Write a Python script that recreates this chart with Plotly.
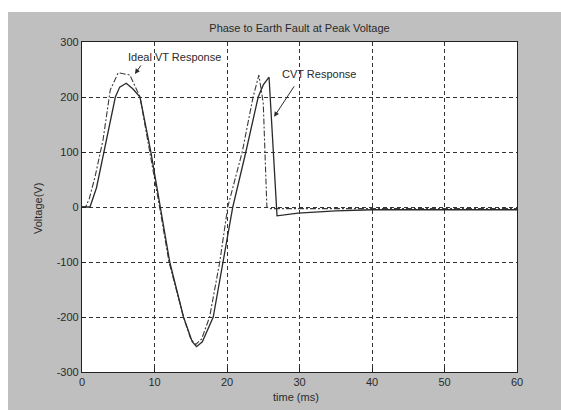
import plotly.graph_objects as go

# CVT response (solid)
cvt_t = [0, 1.1, 2.0, 2.5, 3.0, 4.0, 4.6, 5.2, 6.1, 7.0, 8.0, 9.5, 10.8, 12.1, 14.0,
         15.2, 15.8, 16.6, 18.1, 19.5, 20.8, 22.6, 24.3, 25.0, 25.8, 26.9, 29.8,
         35, 40, 50, 60]
cvt_v = [0, 0, 35, 67, 100, 160, 200, 218, 225, 215, 200, 100, 0, -100, -200,
         -245, -254, -245, -200, -100, 0, 100, 200, 222, 236, -16, -11,
         -7, -5, -5, -5]

# Ideal VT response (dash-dot)
ideal_t = [0, 0.5, 1.0, 1.8, 2.9, 3.9, 5.0, 6.6, 8.0, 9.4, 10.7, 12.0, 14.0, 15.0,
           15.7, 16.5, 17.6, 19.0, 20.1, 22.1, 23.6, 24.4, 25.0, 25.5, 26.0,
           30, 40, 50, 60]
ideal_v = [0, 0, 15, 55, 122, 213, 244, 240, 200, 100, 0, -100, -200, -240,
           -250, -240, -200, -100, 0, 100, 200, 240, 189, 0, -3,
           -3, -3, -3, -3]

x_ticks = [0, 10, 20, 30, 40, 50, 60]
x_tick_text = ["0", "10", "20", "30", "40", "50", "60"]
y_ticks = [300, 200, 100, 0, -100, -200, -300]
y_tick_text = ["300", "200", "100", "0", "-100", "-200", "-300"]

title_text = "Phase to Earth Fault at Peak Voltage"
x_title = "time (ms)"
y_title = "Voltage(V)"

ink = "#2a2a2a"
font_family = "Liberation Sans, Arial, sans-serif"

fig = go.Figure()
fig.add_trace(go.Scatter(x=ideal_t, y=ideal_v, mode="lines", name="Ideal VT Response",
                         line=dict(color="#3a3a3a", width=1.1, dash="6px,2px,2px,2px")))
fig.add_trace(go.Scatter(x=cvt_t, y=cvt_v, mode="lines", name="CVT Response",
                         line=dict(color="#2a2a2a", width=1.3)))

L, R, T, B = 82, 44, 42, 38
W, H = 561, 410
pw, ph = W - L - R, H - T - B

fig.update_layout(
    width=W, height=H,
    margin=dict(l=L, r=R, t=T, b=B),
    paper_bgcolor="#bfbfbf",
    plot_bgcolor="white",
    showlegend=False,
    font=dict(family=font_family, size=11, color=ink),
    title=dict(text=title_text, x=0.5, xref="paper", y=1 - 28 / H, yref="container",
               xanchor="center", yanchor="middle", font=dict(size=11, color=ink)),
)
axis_common = dict(showline=True, mirror=True, linecolor="#222", linewidth=1.2,
                   showgrid=True, gridcolor="#333", gridwidth=1, griddash="4px,3px",
                   zeroline=False, ticks="inside", ticklen=4, tickcolor="#222",
                   tickfont=dict(size=11, color=ink, family=font_family))
fig.update_xaxes(range=[0, 60], tickvals=x_ticks, ticktext=x_tick_text, **axis_common)
fig.update_yaxes(range=[-300, 300], tickvals=y_ticks, ticktext=y_tick_text, **axis_common)

# axis titles
fig.add_annotation(text=x_title, xref="paper", yref="paper", x=(296 - L) / pw,
                   y=-(397 - (T + ph)) / ph, showarrow=False, xanchor="center",
                   yanchor="middle", font=dict(size=11, color=ink))
fig.add_annotation(text=y_title, xref="paper", yref="paper", x=(38 - L) / pw,
                   y=(T + ph - 209) / ph, showarrow=False, textangle=-90,
                   xanchor="center", yanchor="middle", font=dict(size=11, color=ink))

# curve labels and arrows
fig.add_annotation(text="Ideal VT Response", x=12.8, y=272, showarrow=False,
                   font=dict(size=11, color=ink))
fig.add_annotation(text="", x=7.3, y=242, ax=7, ay=-10, showarrow=True,
                   arrowhead=2, arrowsize=1, arrowwidth=1, arrowcolor=ink)
fig.add_annotation(text="CVT Response", x=32.7, y=242, showarrow=False,
                   font=dict(size=11, color=ink))
fig.add_annotation(text="", x=26.5, y=164, ax=21, ay=-32, showarrow=True,
                   arrowhead=2, arrowsize=1, arrowwidth=1, arrowcolor=ink)

# white paper strips at top and left (scanned page edge)
top_y = 1 + T / ph
fig.add_shape(type="rect", xref="paper", yref="paper", x0=-L / pw - 0.01, x1=1 + R / pw + 0.01,
              y0=1 + (T - 12) / ph, y1=top_y + 0.01, fillcolor="white", line_width=0,
              layer="below")
fig.add_shape(type="rect", xref="paper", yref="paper", x0=-L / pw - 0.01, x1=-(L - 8) / pw,
              y0=-B / ph - 0.01, y1=top_y + 0.01, fillcolor="white", line_width=0,
              layer="below")

fig.write_html("out.html")
